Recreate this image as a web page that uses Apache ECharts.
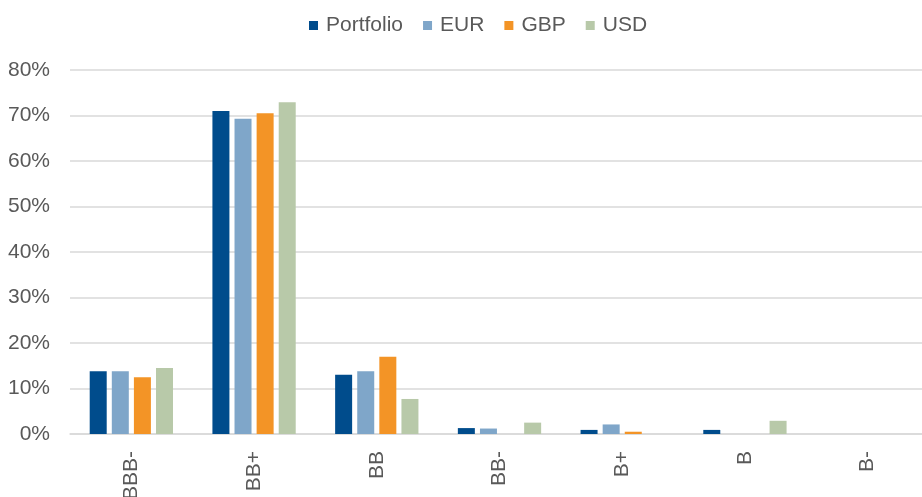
<!DOCTYPE html>
<html>
<head>
<meta charset="utf-8">
<script src="https://cdn.jsdelivr.net/npm/echarts@6/dist/echarts.min.js"></script>
<style>
    html, body { margin: 0; padding: 0; background: #fff; }
    #chart { width: 922px; height: 497px; }
</style>
</head>
<body>
<div id="chart"></div>
<script>
// ratings buckets and weights (%) per currency
const categories = ['BBB-', 'BB+', 'BB', 'BB-', 'B+', 'B', 'B-']
const portfolio = [13.8, 71.0, 13.0, 1.3, 0.9, 0.9, 0]
const eur = [13.8, 69.3, 13.8, 1.2, 2.1, 0, 0]
const gbp = [12.5, 70.5, 17.0, 0, 0.5, 0, 0]
const usd = [14.5, 72.9, 7.7, 2.5, 0, 2.9, 0]
const seriesNames = ['Portfolio', 'EUR', 'GBP', 'USD']
const colors = ['#004C8C', '#7FA6C9', '#F39426', '#B8C9A9']

const textColor = '#595959'
const font = 'Liberation Sans, Arial, sans-serif'

let chart = echarts.init(document.getElementById('chart'))
let option = {
    color: colors,
    legend: {
        top: 10,
        left: 304,
        icon: 'rect',
        itemWidth: 9,
        itemHeight: 9,
        itemGap: 20,
        textStyle: {
            color: textColor,
            fontSize: 21,
            fontFamily: font,
            padding: [0, 0, 0, 3]
        },
        data: seriesNames
    },
    grid: {
        left: 70,
        right: -7,
        top: 70,
        bottom: 63,
        outerBoundsMode: 'none'
    },
    xAxis: {
        type: 'category',
        data: categories,
        axisTick: { show: false },
        axisLine: {
            lineStyle: { color: '#d9d9d9', width: 1.5 }
        },
        axisLabel: {
            rotate: 90,
            margin: 17,
            color: textColor,
            fontSize: 21,
            fontFamily: font
        }
    },
    yAxis: {
        type: 'value',
        min: 0,
        max: 80,
        interval: 10,
        axisLine: { show: false },
        axisTick: { show: false },
        splitLine: {
            lineStyle: { color: '#d9d9d9', width: 1.5 }
        },
        axisLabel: {
            formatter: '{value}%',
            margin: 20,
            color: textColor,
            fontSize: 21,
            fontFamily: font
        }
    },
    series: [
        { name: 'Portfolio', type: 'bar', data: portfolio },
        { name: 'EUR', type: 'bar', data: eur },
        { name: 'GBP', type: 'bar', data: gbp },
        { name: 'USD', type: 'bar', data: usd }
    ].map(s => Object.assign(s, {
        barWidth: 17,
        barGap: '30%',
        animation: false
    }))
}
chart.setOption(option)
</script>
</body>
</html>
